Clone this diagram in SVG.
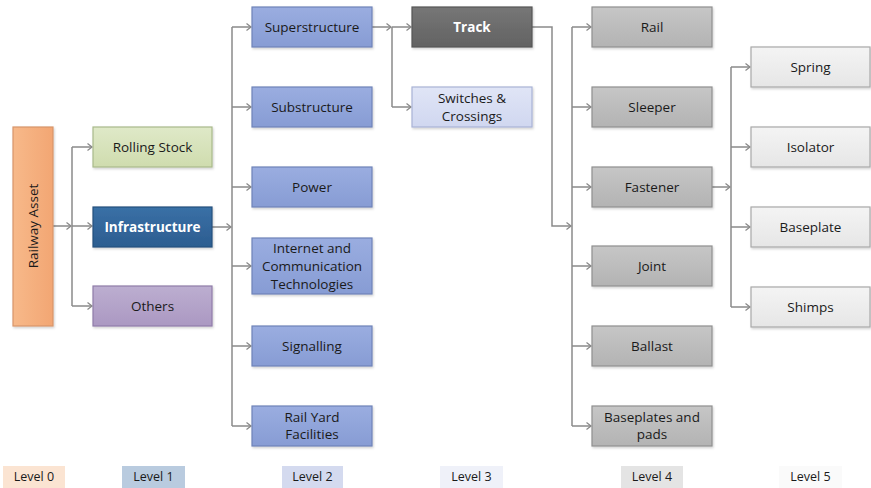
<svg xmlns="http://www.w3.org/2000/svg" width="871" height="488" viewBox="0 0 871 488">
<defs>
<marker id="arr" markerUnits="userSpaceOnUse" markerWidth="10" markerHeight="10" refX="6" refY="5" orient="auto">
<path d="M1.5 1.5 L6 5 L1.5 8.5" fill="none" stroke="#8a8a8a" stroke-width="1.3"/>
</marker>
<linearGradient id="gOrange" x1="0" y1="0" x2="1" y2="0"><stop offset="0" stop-color="#f7b98a"/><stop offset="1" stop-color="#f2a673"/></linearGradient>
<linearGradient id="gGreen" x1="0" y1="0" x2="0" y2="1"><stop offset="0" stop-color="#dfe9c8"/><stop offset="1" stop-color="#cfdcae"/></linearGradient>
<linearGradient id="gBlue" x1="0" y1="0" x2="0" y2="1"><stop offset="0" stop-color="#3a70a6"/><stop offset="1" stop-color="#2c5d90"/></linearGradient>
<linearGradient id="gPurple" x1="0" y1="0" x2="0" y2="1"><stop offset="0" stop-color="#bcaed0"/><stop offset="1" stop-color="#ab98c2"/></linearGradient>
<linearGradient id="gL2" x1="0" y1="0" x2="0" y2="1"><stop offset="0" stop-color="#9aade0"/><stop offset="1" stop-color="#879cd4"/></linearGradient>
<linearGradient id="gTrack" x1="0" y1="0" x2="0" y2="1"><stop offset="0" stop-color="#767676"/><stop offset="1" stop-color="#626262"/></linearGradient>
<linearGradient id="gSw" x1="0" y1="0" x2="0" y2="1"><stop offset="0" stop-color="#e0e5f6"/><stop offset="1" stop-color="#d0d7f0"/></linearGradient>
<linearGradient id="gL4" x1="0" y1="0" x2="0" y2="1"><stop offset="0" stop-color="#c6c6c6"/><stop offset="1" stop-color="#b3b3b3"/></linearGradient>
<linearGradient id="gL5" x1="0" y1="0" x2="0" y2="1"><stop offset="0" stop-color="#f4f4f4"/><stop offset="1" stop-color="#e6e6e6"/></linearGradient>
<filter id="sh" x="-10%" y="-10%" width="125%" height="130%"><feDropShadow dx="1" dy="1.5" stdDeviation="1.2" flood-color="#000" flood-opacity="0.18"/></filter>
</defs>
<style>
.box{stroke-width:1.2;filter:url(#sh)}
.t{font-family:"Open Sans","Liberation Sans",sans-serif;font-size:13.5px;fill:#1a1a1a;text-anchor:middle;dominant-baseline:central}
.w{fill:#ffffff;font-weight:bold}
.c{fill:none;stroke:#8a8a8a;stroke-width:1.5}
.ca{fill:none;stroke:#8a8a8a;stroke-width:1.5;marker-end:url(#arr)}
.lg{font-family:"Open Sans","Liberation Sans",sans-serif;font-size:12.5px;fill:#1a1a1a;text-anchor:middle;dominant-baseline:central}
</style>
<rect width="871" height="488" fill="#ffffff"/>

<g id="connectors">
<path class="ca" d="M53 226 H71"/>
<path class="c" d="M72 147 V306"/>
<path class="ca" d="M72 147 H92"/>
<path class="ca" d="M72 226 H92"/>
<path class="ca" d="M72 306 H92"/>

<path class="ca" d="M212 227 H231"/>
<path class="c" d="M232 27 V426"/>
<path class="ca" d="M232 27 H251"/>
<path class="ca" d="M232 107 H251"/>
<path class="ca" d="M232 187 H251"/>
<path class="ca" d="M232 266 H251"/>
<path class="ca" d="M232 346 H251"/>
<path class="ca" d="M232 426 H251"/>

<path class="ca" d="M372 27 H391"/>
<path class="c" d="M392 27 V107"/>
<path class="ca" d="M392 27 H411"/>
<path class="ca" d="M392 107 H411"/>

<path class="ca" d="M532 27 H552 V226 H571"/>
<path class="c" d="M572 27 V426"/>
<path class="ca" d="M572 27 H591"/>
<path class="ca" d="M572 107 H591"/>
<path class="ca" d="M572 187 H591"/>
<path class="ca" d="M572 266 H591"/>
<path class="ca" d="M572 346 H591"/>
<path class="ca" d="M572 426 H591"/>

<path class="ca" d="M712 187 H730"/>
<path class="c" d="M731 67 V307"/>
<path class="ca" d="M731 67 H750"/>
<path class="ca" d="M731 147 H750"/>
<path class="ca" d="M731 227 H750"/>
<path class="ca" d="M731 307 H750"/>
</g>

<g id="railway-asset"><rect class="box" x="13" y="127" width="40" height="199" fill="url(#gOrange)" stroke="#d8956a"/><text class="t" transform="translate(33 226) rotate(-90)">Railway Asset</text></g>

<g id="rolling-stock"><rect class="box" x="93" y="127" width="119" height="40" fill="url(#gGreen)" stroke="#a9b98b"/><text class="t" x="152.5" y="147">Rolling Stock</text></g>
<g id="infrastructure"><rect class="box" x="93" y="207" width="119" height="40" fill="url(#gBlue)" stroke="#24507d"/><text class="t w" x="152.5" y="227">Infrastructure</text></g>
<g id="others"><rect class="box" x="93" y="286" width="119" height="40" fill="url(#gPurple)" stroke="#8f7ca8"/><text class="t" x="152.5" y="306">Others</text></g>

<g id="superstructure"><rect class="box" x="252" y="7" width="120" height="40" fill="url(#gL2)" stroke="#6f83b8"/><text class="t" x="312" y="27">Superstructure</text></g>
<g id="substructure"><rect class="box" x="252" y="87" width="120" height="40" fill="url(#gL2)" stroke="#6f83b8"/><text class="t" x="312" y="107">Substructure</text></g>
<g id="power"><rect class="box" x="252" y="167" width="120" height="40" fill="url(#gL2)" stroke="#6f83b8"/><text class="t" x="312" y="187">Power</text></g>
<g id="ict"><rect class="box" x="252" y="238" width="120" height="56" fill="url(#gL2)" stroke="#6f83b8"/><text class="t" x="312" y="248">Internet and</text><text class="t" x="312" y="266">Communication</text><text class="t" x="312" y="284">Technologies</text></g>
<g id="signalling"><rect class="box" x="252" y="326" width="120" height="40" fill="url(#gL2)" stroke="#6f83b8"/><text class="t" x="312" y="346">Signalling</text></g>
<g id="rail-yard"><rect class="box" x="252" y="406" width="120" height="40" fill="url(#gL2)" stroke="#6f83b8"/><text class="t" x="312" y="417">Rail Yard</text><text class="t" x="312" y="434">Facilities</text></g>

<g id="track"><rect class="box" x="412" y="7" width="120" height="40" fill="url(#gTrack)" stroke="#555"/><text class="t w" x="472" y="27">Track</text></g>
<g id="switches"><rect class="box" x="412" y="87" width="120" height="40" fill="url(#gSw)" stroke="#a9b3d6"/><text class="t" x="472" y="98">Switches &amp;</text><text class="t" x="472" y="116">Crossings</text></g>

<g id="rail"><rect class="box" x="592" y="7" width="120" height="40" fill="url(#gL4)" stroke="#8f8f8f"/><text class="t" x="652" y="27">Rail</text></g>
<g id="sleeper"><rect class="box" x="592" y="87" width="120" height="40" fill="url(#gL4)" stroke="#8f8f8f"/><text class="t" x="652" y="107">Sleeper</text></g>
<g id="fastener"><rect class="box" x="592" y="167" width="120" height="40" fill="url(#gL4)" stroke="#8f8f8f"/><text class="t" x="652" y="187">Fastener</text></g>
<g id="joint"><rect class="box" x="592" y="246" width="120" height="40" fill="url(#gL4)" stroke="#8f8f8f"/><text class="t" x="652" y="266">Joint</text></g>
<g id="ballast"><rect class="box" x="592" y="326" width="120" height="40" fill="url(#gL4)" stroke="#8f8f8f"/><text class="t" x="652" y="346">Ballast</text></g>
<g id="baseplates-pads"><rect class="box" x="592" y="406" width="120" height="40" fill="url(#gL4)" stroke="#8f8f8f"/><text class="t" x="652" y="417">Baseplates and</text><text class="t" x="652" y="434">pads</text></g>

<g id="spring"><rect class="box" x="751" y="47" width="119" height="40" fill="url(#gL5)" stroke="#a8a8a8"/><text class="t" x="810.5" y="67">Spring</text></g>
<g id="isolator"><rect class="box" x="751" y="127" width="119" height="40" fill="url(#gL5)" stroke="#a8a8a8"/><text class="t" x="810.5" y="147">Isolator</text></g>
<g id="baseplate"><rect class="box" x="751" y="207" width="119" height="40" fill="url(#gL5)" stroke="#a8a8a8"/><text class="t" x="810.5" y="227">Baseplate</text></g>
<g id="shimps"><rect class="box" x="751" y="287" width="119" height="40" fill="url(#gL5)" stroke="#a8a8a8"/><text class="t" x="810.5" y="307">Shimps</text></g>

<g id="legend">
<rect x="3" y="466" width="62" height="22" fill="#fbe4d2"/><text class="lg" x="34" y="476">Level 0</text>
<rect x="122" y="466" width="63" height="22" fill="#b9cbdf"/><text class="lg" x="153.5" y="476">Level 1</text>
<rect x="282" y="466" width="61" height="22" fill="#d4daef"/><text class="lg" x="312.5" y="476">Level 2</text>
<rect x="440" y="466" width="63" height="22" fill="#eff1f9"/><text class="lg" x="471.5" y="476">Level 3</text>
<rect x="621" y="466" width="62" height="22" fill="#e4e4e4"/><text class="lg" x="652" y="476">Level 4</text>
<rect x="779" y="466" width="63" height="22" fill="#fafafa"/><text class="lg" x="810.5" y="476">Level 5</text>
</g>
</svg>
